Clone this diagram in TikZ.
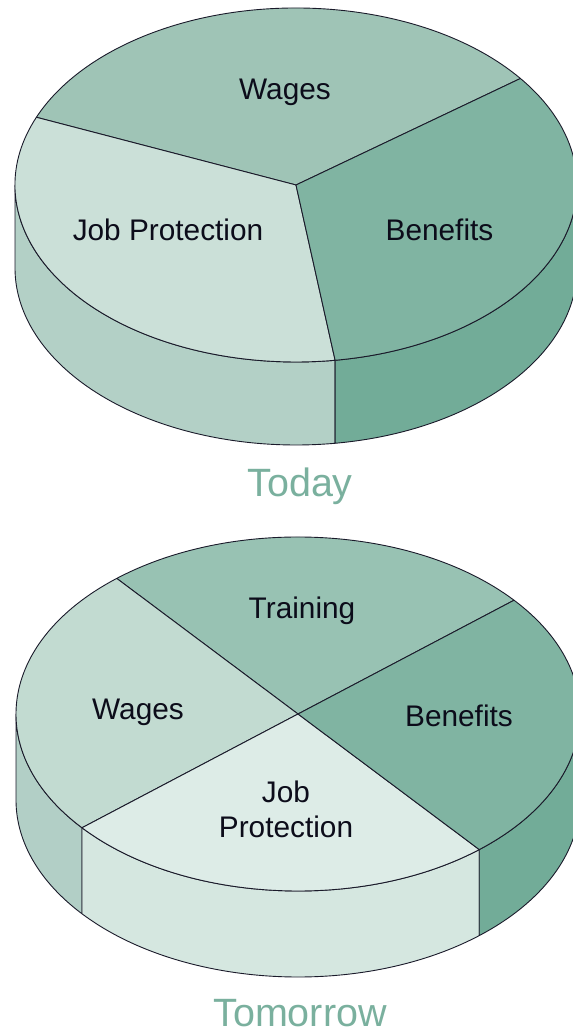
\documentclass[tikz,border=0pt]{standalone}
\usepackage{fontspec}
\setmainfont{Liberation Sans}
\definecolor{wagesT}{HTML}{9FC4B6}
\definecolor{jpT}{HTML}{CBE0D8}
\definecolor{benT}{HTML}{80B4A2}
\definecolor{jpS}{HTML}{B3D0C6}
\definecolor{benS}{HTML}{72AC98}
\definecolor{trainB}{HTML}{98C2B3}
\definecolor{wagesB}{HTML}{C2DBD1}
\definecolor{jpB}{HTML}{DDECE7}
\definecolor{wagesBS}{HTML}{B2CFC6}
\definecolor{jpBS}{HTML}{D5E7E0}
\definecolor{titlec}{HTML}{7AB09E}
\definecolor{linec}{HTML}{1A1A2A}
\definecolor{textc}{HTML}{0C0C1A}
\newcommand{\pieslice}[7]{%
  \filldraw[fill=#7, edge] (#1,#2) -- ({#1+#3*cos(#5)},{#2+#4*sin(#5)})
    arc[start angle=#5, end angle=#6, x radius=#3, y radius=#4] -- cycle;}
\newcommand{\pieside}[8]{%
  \filldraw[fill=#8, edge] ({#1+#3*cos(#5)},{#2+#4*sin(#5)})
    arc[start angle=#5, end angle=#6, x radius=#3, y radius=#4] -- ++(0,-#7)
    arc[start angle=#6, end angle=#5, x radius=#3, y radius=#4] -- cycle;}
\begin{document}
\begin{tikzpicture}[x=1pt,y=1pt,
  edge/.style={draw=linec, line width=0.9pt, line join=round},
  lbl/.style={font=\fontsize{29.8}{35}\selectfont, text=textc, inner sep=0pt, anchor=base},
  ttl/.style={font=\fontsize{39.5}{44}\selectfont, text=titlec, inner sep=0pt, anchor=base}]
\useasboundingbox (0,0) rectangle (573,1034);
\clip (0,0) rectangle (573,1034);
% ---- Today pie ----
\pieside{296}{849}{281}{177}{180}{278}{83}{jpS}
\pieside{296}{849}{281}{177}{278}{360}{83}{benS}
\pieslice{296}{849}{281}{177}{37}{157.5}{wagesT}
\pieslice{296}{849}{281}{177}{157.5}{278}{jpT}
\pieslice{296}{849}{281}{177}{278}{397}{benT}
\node[lbl] (w1) at (285,934) {Wages};
\node[lbl] (jp1) at (168,793) {Job Protection};
\node[lbl] (b1) at (439.5,793) {Benefits};
\node[ttl] (today) at (300,537) {Today};
% ---- Tomorrow pie ----
\pieside{298}{320}{282}{177}{180}{220}{86}{wagesBS}
\pieside{298}{320}{282}{177}{220}{310}{86}{jpBS}
\pieside{298}{320}{282}{177}{310}{360}{86}{benS}
\pieslice{298}{320}{282}{177}{40}{130}{trainB}
\pieslice{298}{320}{282}{177}{130}{220}{wagesB}
\pieslice{298}{320}{282}{177}{220}{310}{jpB}
\pieslice{298}{320}{282}{177}{310}{400}{benT}
\node[lbl] (t2) at (302,415) {Training};
\node[lbl] (w2) at (138,314) {Wages};
\node[lbl] (b2) at (459,307) {Benefits};
\node[lbl, align=center] (jp2) at (286,196) {Job\\Protection};
\node[ttl] (tomorrow) at (300,8) {Tomorrow};
\end{tikzpicture}
\end{document}
